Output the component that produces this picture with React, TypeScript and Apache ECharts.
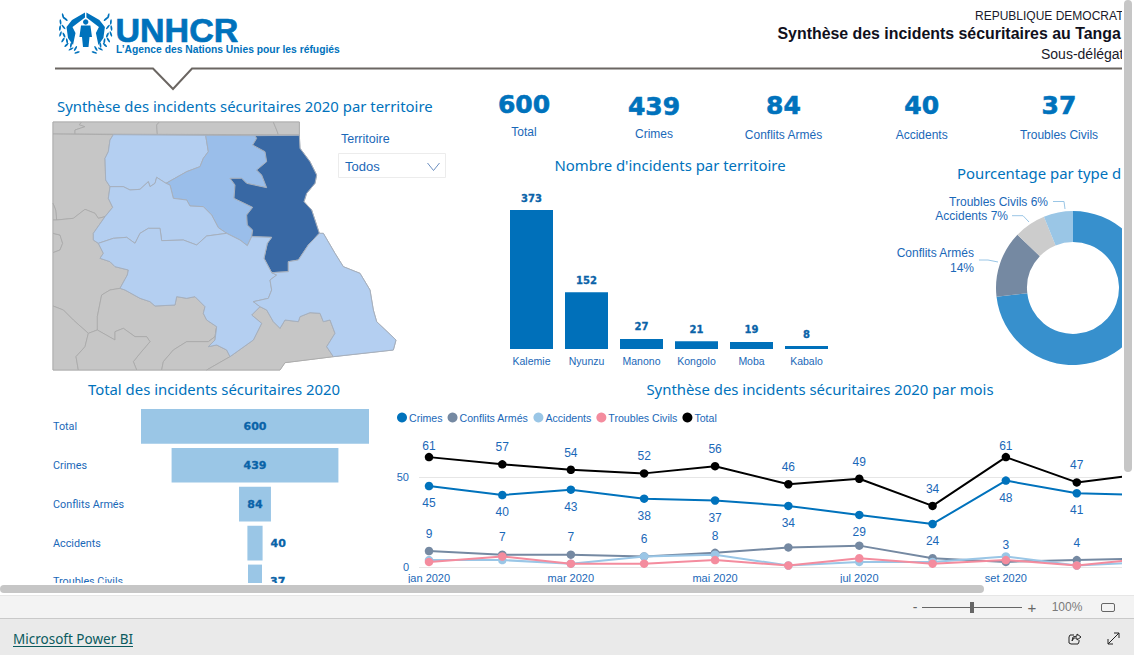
import React, { useEffect, useRef } from "react";
import * as echarts from "echarts";

const BLUE = "#0072BC";
const TXT = "#1A68B8";
const ARIAL = '"Liberation Sans", Arial, sans-serif';
const TITLE_FONT = '"Noto Sans", sans-serif';
const HEAVY = '"DejaVu Sans", sans-serif';

// ---- data ----
const territories = ["Kalemie", "Nyunzu", "Manono", "Kongolo", "Moba", "Kabalo"];
const territoryIncidents = [373, 152, 27, 21, 19, 8];

const kpiLabels = ["Total", "Crimes", "Conflits Armés", "Accidents", "Troubles Civils"];
const kpiValues = [600, 439, 84, 40, 37];

const pieNames = ["Crimes", "Conflits Armés", "Accidents", "Troubles Civils"];
const pieValues = [439, 84, 40, 37];

const months = ["2020-01-01", "2020-02-01", "2020-03-01", "2020-04-01", "2020-05-01", "2020-06-01", "2020-07-01", "2020-08-01", "2020-09-01", "2020-10-01", "2020-11-01", "2020-12-01"];
const monthLabels = ["jan 2020", "fev 2020", "mar 2020", "abr 2020", "mai 2020", "jun 2020", "jul 2020", "ago 2020", "set 2020", "out 2020", "nov 2020", "dez 2020"];
const crimes = [45, 40, 43, 38, 37, 34, 29, 24, 48, 41, 40, 20];
const conflits = [9, 7, 7, 6, 8, 11, 12, 5, 3, 4, 5, 7];
const accidents = [4, 4, 2, 6, 7, 1, 3, 3, 6, 1, 3, 0];
const troubles = [3, 6, 2, 2, 4, 1, 5, 2, 4, 1, 5, 2];
const totals = [61, 57, 54, 52, 56, 46, 49, 34, 61, 47, 52, 31];

// map outlines
type P = number[][];
const silhouette: P = [[39,6],[778,6],[778,46],[780,85],[810,125],[830,165],[825,190],[800,220],[792,245],[815,270],[838,340],[850,340],[885,400],[910,440],[960,460],[990,510],[1000,570],[1010,605],[1068,660],[1060,690],[880,710],[735,728],[720,750],[39,750]];
const neighbours: Record<string, P> = {
  n1: [[39,6],[125,6],[118,14],[135,20],[105,30],[105,42],[39,42]],
  n2: [[125,6],[358,6],[350,15],[352,43],[105,42],[105,30],[135,20],[118,14]],
  n3: [[358,6],[700,6],[710,30],[715,44],[352,43],[350,15]],
  n4: [[700,6],[778,6],[778,44],[715,44],[710,30]],
  n5: [[39,42],[220,44],[210,60],[205,95],[195,115],[197,180],[210,200],[205,235],[218,262],[195,290],[175,295],[165,280],[135,268],[100,295],[50,300],[47,270],[39,250]],
  n6: [[39,250],[47,270],[50,300],[39,300]],
  n7: [[39,340],[60,345],[68,370],[60,390],[39,398]],
  n8: [[39,300],[50,300],[100,295],[135,268],[165,280],[175,295],[195,290],[160,340],[160,360],[175,370],[190,400],[180,415],[210,425],[225,440],[265,450],[262,465],[240,505],[210,510],[185,525],[172,590],[172,630],[145,640],[100,600],[70,570],[39,558],[39,398],[60,390],[68,370],[60,345],[39,340]],
  n9: [[39,558],[70,570],[100,600],[145,640],[135,680],[108,710],[115,750],[39,750]],
  n10: [[240,505],[255,510],[300,535],[330,545],[345,558],[405,555],[410,530],[440,535],[465,530],[495,560],[490,580],[500,600],[530,620],[525,650],[505,665],[440,665],[400,690],[370,725],[365,750],[290,750],[280,725],[300,700],[330,665],[320,650],[285,650],[250,625],[225,635],[225,660],[172,630],[172,590],[185,525],[210,510]],
  n11: [[145,640],[172,630],[225,660],[225,635],[250,625],[285,650],[320,650],[330,665],[300,700],[280,725],[290,750],[115,750],[108,710],[135,680]],
  n12: [[365,750],[370,725],[400,690],[440,665],[505,665],[525,650],[530,620],[525,660],[505,680],[530,675],[560,690],[570,710],[500,750]],
  n13: [[720,750],[735,728],[880,710],[860,680],[885,640],[870,600],[850,605],[840,580],[810,578],[780,590],[775,605],[735,600],[720,625],[700,605],[680,570],[660,560],[635,585],[665,610],[640,660],[570,710],[500,750]],
};
const territoryShapes: Record<string, P> = {
  Kongolo: [[220,44],[497,46],[505,95],[490,115],[480,140],[440,155],[378,190],[350,172],[345,190],[330,200],[325,185],[300,208],[270,210],[250,200],[210,200],[197,180],[195,115],[205,95],[210,60]],
  Nyunzu: [[497,46],[645,47],[650,55],[638,75],[675,95],[680,125],[650,150],[665,165],[680,203],[620,190],[605,175],[570,175],[585,195],[582,235],[638,262],[620,285],[622,315],[638,330],[635,350],[622,377],[600,360],[560,340],[535,323],[515,285],[490,260],[450,258],[440,240],[400,235],[390,195],[378,190],[440,155],[480,140],[490,115],[505,95]],
  Kalemie: [[645,47],[778,46],[780,85],[810,125],[830,165],[825,190],[800,220],[792,245],[815,270],[838,340],[805,375],[775,420],[745,425],[745,455],[695,458],[672,415],[682,370],[695,352],[635,350],[638,330],[622,315],[620,285],[638,262],[582,235],[585,195],[570,175],[605,175],[620,190],[680,203],[665,165],[650,150],[680,125],[675,95],[638,75],[650,55]],
  Kabalo: [[210,200],[250,200],[270,210],[300,208],[325,185],[330,200],[345,190],[350,172],[378,190],[390,195],[400,235],[440,240],[450,258],[490,260],[515,285],[535,323],[560,340],[500,348],[470,375],[430,360],[365,362],[360,325],[325,325],[300,340],[285,370],[260,352],[220,355],[175,370],[160,360],[160,340],[195,290],[218,262],[205,235]],
  Manono: [[175,370],[220,355],[260,352],[285,370],[300,340],[325,325],[360,325],[365,362],[430,360],[470,375],[500,348],[560,340],[600,360],[622,377],[635,350],[695,352],[682,370],[672,415],[695,458],[710,465],[690,480],[695,510],[685,535],[640,545],[660,560],[635,585],[665,610],[640,660],[570,710],[560,690],[530,675],[505,680],[525,660],[530,620],[500,600],[490,580],[495,560],[465,530],[440,535],[410,530],[405,555],[345,558],[330,545],[300,535],[255,510],[240,505],[262,465],[265,450],[225,440],[210,425],[180,415],[190,400]],
  Moba: [[838,340],[850,340],[885,400],[910,440],[960,460],[990,510],[1000,570],[1010,605],[1068,660],[1060,690],[880,710],[860,680],[885,640],[870,600],[850,605],[840,580],[810,578],[780,590],[775,605],[735,600],[720,625],[700,605],[680,570],[660,560],[640,545],[685,535],[695,510],[690,480],[710,465],[695,458],[745,455],[745,425],[775,420],[805,375]],
};

const feature = (name: string, pts: P) => ({
  type: "Feature",
  properties: { name },
  geometry: { type: "Polygon", coordinates: [[...pts, pts[0]].map(([x, y]) => [x, -y])] },
});

const mapColor = (v: number) => (v >= 300 ? "#3868A4" : v >= 100 ? "#9ABEEA" : "#B4CFF1");

const EMBLEM = "M85 12.5L72 20L66.5 27L68 38L73 45L75.5 33L72.5 27L85 17.5ZM86.4 12.5L99.4 20L104.9 27L103.4 38L98.4 45L95.9 33L98.9 27L86.4 17.5ZM81 25.5L90.4 25.5L92 37L89.5 37L88.5 47L83 47L82 37L79.4 37Z";

function buildGraphics() {
  const els: any[] = [];
  const text = (t: string, x: number, y: number, font: string, fill: string, align = "left", z = 50, stroke?: number) =>
    els.push({ type: "text", z, style: { text: t, x, y, font, fill, align, verticalAlign: "middle", textAlign: align, textVerticalAlign: "middle",
      ...(stroke ? { stroke: fill, lineWidth: stroke } : {}) } });
  const poly = (points: number[][], stroke: string, lineWidth = 1, z = 50) =>
    els.push({ type: "polyline", z, shape: { points }, style: { stroke, lineWidth, fill: "none" } });
  const rect = (x: number, y: number, width: number, height: number, fill: string, r = 0, z = 100) =>
    els.push({ type: "rect", z, shape: { x, y, width, height, r }, style: { fill } });

  // titles
  const titleFont = `14.9px ${TITLE_FONT}`;
  text("Synthèse des incidents sécuritaires 2020 par territoire", 57, 106, titleFont, BLUE);
  text("Nombre d'incidents par territoire", 670, 164.5, titleFont, BLUE, "center");
  text("Pourcentage par type d", 957, 173, titleFont, BLUE);
  text("Total des incidents sécuritaires 2020", 214, 389, titleFont, BLUE, "center");
  text("Synthèse des incidents sécuritaires 2020 par mois", 820, 389, titleFont, BLUE, "center");

  // header
  text("REPUBLIQUE DEMOCRAT", 975, 15.5, `12px ${ARIAL}`, "#1a1a2a");
  text("Synthèse des incidents sécuritaires au Tanga", 777.5, 33.5, `bold 15.9px ${ARIAL}`, "#10101c");
  text("Sous-délégat", 1041, 53.5, `14px ${ARIAL}`, "#1a1a2a");
  poly([[55, 68.5], [153, 68.5], [173, 89], [192, 68.5], [1122, 68.5]], "#6B6662", 2);

  // logo
  text("UNHCR", 115.5, 29.5, `bold 34px ${ARIAL}`, BLUE, "left", 50, 0.7);
  text("L’Agence des Nations Unies pour les réfugiés", 116, 49.5, `bold 10.3px ${ARIAL}`, BLUE);
  els.push({ type: "unhcrEmblem", z: 50, x: 0, y: 0, style: { fill: BLUE } });
  els.push({ type: "circle", z: 50, shape: { cx: 85.7, cy: 22, r: 2.7 }, style: { fill: BLUE } });
  // laurel leaves: [x, y, angle]
  [[63, 16, 15], [60.5, 22, 5], [60, 28, -8], [60.5, 34, -20], [63, 40, -32], [66.5, 45, -45], [71, 49, -60], [77, 52.5, -75],
   [65.5, 19, 50], [63.5, 27, 40], [64, 35, 25], [67, 41, 10], [71, 45, -10], [75.5, 48.5, -30]].forEach(([x, y, a]) => {
    [x, 171.4 - x].forEach((cx, i) =>
      els.push({ type: "ellipse", z: 50, x: cx, y, rotation: ((i ? -a : a) * Math.PI) / 180 + Math.PI / 2,
        shape: { cx: 0, cy: 0, rx: 2.8, ry: 0.9 }, style: { fill: BLUE } }));
  });

  // KPI cards
  const kpiX = [524, 654, 783.5, 921.7, 1059];
  const kpiY = [104, 106, 105.5, 105, 105];
  const kpiLabelY = [131.7, 133.7, 134.7, 134.7, 135];
  kpiValues.forEach((v, i) => {
    text(String(v), kpiX[i], kpiY[i], `bold 25px ${HEAVY}`, BLUE, "center", 50, 0.6);
    text(kpiLabels[i], kpiX[i], kpiLabelY[i], `12px ${ARIAL}`, TXT, "center");
  });

  // slicer
  text("Territoire", 341, 138.5, `12.5px ${ARIAL}`, TXT);
  els.push({ type: "rect", z: 50, shape: { x: 338.5, y: 153.5, width: 107, height: 24 }, style: { fill: "#fff", stroke: "#ECECEC", lineWidth: 1 } });
  text("Todos", 345, 166, `13px ${ARIAL}`, TXT);
  poly([[427.5, 163], [433.5, 170.5], [439.5, 163]], "#6C8FC0", 1);

  // page chrome on top
  rect(0, 583, 1134, 12, "#ffffff");
  rect(1122, 0, 12, 595, "#ffffff");
  rect(1124, 0, 8, 472, "#C6C6C6", 4, 101);
  rect(0, 585, 984, 8, "#C6C6C6", 4, 101);
  rect(0, 595, 1134, 23, "#F3F3F3");
  rect(0, 595, 1134, 1, "#E6E6E6", 0, 101);
  rect(0, 618, 1134, 37, "#EAEAEA");
  rect(0, 618, 1134, 1, "#C9C9C9", 0, 101);
  rect(922, 607, 100, 1, "#666666", 0, 101);
  rect(970, 602, 4, 11, "#666666", 0, 102);
  text("-", 915, 607, `14px ${ARIAL}`, "#666666", "center", 102);
  text("+", 1032, 607, `15px ${ARIAL}`, "#666666", "center", 102);
  text("100%", 1067, 607, `12px ${ARIAL}`, "#7a7a7a", "center", 102);
  els.push({ type: "rect", z: 102, shape: { x: 1101.5, y: 603.5, width: 13, height: 8, r: 1.5 }, style: { fill: "none", stroke: "#666666", lineWidth: 1 } });
  text("Microsoft Power BI", 13, 639, `13.5px ${TITLE_FONT}`, "#0B5A5E", "left", 102);
  rect(13, 646, 120, 1, "#0B5A5E", 0, 102);
  poly([[1074, 635], [1070, 635], [1069, 637], [1069, 643], [1071, 644], [1078, 644], [1079, 642], [1079, 640]], "#222222", 1, 102);
  poly([[1072, 641], [1073, 637], [1077, 636], [1077, 634], [1081, 637], [1077, 640], [1077, 638], [1074, 638], [1072, 641]], "#222222", 1, 102);
  poly([[1108, 644], [1119, 633]], "#222222", 1, 102);
  poly([[1108, 639], [1108, 644], [1113, 644]], "#222222", 1, 102);
  poly([[1114, 633], [1119, 633], [1119, 638]], "#222222", 1, 102);
  return els;
}

const pieLabelLayout: Record<number, any> = {
  1: { x: 974, y: 260, points: [[979, 260], [988, 260], [998, 262]] },
  2: { x: 1008, y: 215.7, points: [[1012, 215.7], [1023, 215.7], [1029, 222]] },
  3: { x: 1048, y: 201.7, points: [[1053, 201.5], [1064, 201.5], [1065, 209]] },
};

export default function App() {
  const ref = useRef<HTMLDivElement>(null);
  useEffect(() => {
    document.body.style.margin = "0";
    echarts.graphic.registerShape("unhcrEmblem", echarts.graphic.extendPath(EMBLEM as any, {}));
    const geo = {
      type: "FeatureCollection",
      features: [
        feature("fond", silhouette),
        ...Object.entries(neighbours).map(([n, p]) => feature(n, p)),
        ...Object.entries(territoryShapes).map(([n, p]) => feature(n, p)),
      ],
    };
    echarts.registerMap("tanganyika", geo as any);

    const chart = echarts.init(ref.current!, null, { renderer: "svg" });
    // a continuous date scale, in days since the first month
    const days = months.map((m) => Math.round((Date.parse(m) - Date.parse(months[0])) / 86400000));
    const visibleMonth = (i: number) => i < 10; // later months lie beyond the visible page
    const lineSeries = (name: string, values: number[], color: string, z: number, labelFor: (v: number, i: number) => any) => ({
      type: "line", name, xAxisIndex: 2, yAxisIndex: 2, z,
      data: values.map((v, i) => ({ value: [days[i], v], label: visibleMonth(i) ? labelFor(v, i) : { show: false } })),
      symbol: "circle", symbolSize: 8.5, silent: true,
      lineStyle: { color, width: 2 }, itemStyle: { color },
      label: { color: TXT, fontFamily: ARIAL, fontSize: 12, formatter: (p: any) => String(p.value[1]) },
      emphasis: { disabled: true },
    });
    const none = () => ({ show: false });
    const option: any = {
      animation: false,
      backgroundColor: "#ffffff",
      tooltip: { show: false },
      legend: {
        data: ["Crimes", "Conflits Armés", "Accidents", "Troubles Civils", "Total"],
        left: 397, top: 412, padding: 0, icon: "circle", itemWidth: 10, itemHeight: 10, itemGap: 5,
        selectedMode: false,
        textStyle: { color: TXT, fontFamily: ARIAL, fontSize: 10.6, padding: [0, 0, 0, -3] },
      },
      grid: [
        { left: 504, top: 210, width: 330, height: 139, outerBoundsMode: "none" },
        { left: 141, top: 406.9, width: 228, height: 194.5, outerBoundsMode: "none" },
        { left: 429, top: 449.9, width: 792, height: 117.4, outerBoundsMode: "none" },
        { left: 419, top: 449.9, width: 703, height: 117.4, outerBoundsMode: "none" },
      ],
      xAxis: [
        { gridIndex: 0, type: "category", data: territories, axisLine: { show: false }, axisTick: { show: false },
          axisLabel: { color: TXT, fontFamily: ARIAL, fontSize: 10.5, margin: 6 } },
        { gridIndex: 1, type: "value", min: 0, max: 600, show: false },
        { gridIndex: 2, type: "value", min: 0, max: days[11], axisLine: { show: false }, axisTick: { show: false }, splitLine: { show: false },
          axisLabel: { color: TXT, fontFamily: ARIAL, fontSize: 11, margin: 5, hideOverlap: false, showMinLabel: true,
            customValues: days.filter((_t, i) => i % 2 === 0 && visibleMonth(i)),
            formatter: (val: number) => monthLabels[days.indexOf(val)] } },
        { gridIndex: 3, type: "value", min: 0, max: 1, show: false },
      ],
      yAxis: [
        { gridIndex: 0, type: "value", min: 0, max: 373, show: false },
        { gridIndex: 1, type: "category", inverse: true, data: kpiLabels, axisLine: { show: false }, axisTick: { show: false },
          axisLabel: { color: TXT, fontFamily: '"Roboto", sans-serif', fontSize: 10.8, margin: 88, align: "left" } },
        { gridIndex: 2, type: "value", min: 0, max: 65, show: false },
        { gridIndex: 3, type: "value", min: 0, max: 65, interval: 50, axisLine: { show: false }, axisTick: { show: false },
          axisLabel: { color: TXT, fontFamily: ARIAL, fontSize: 11, margin: 10, showMaxLabel: false },
          splitLine: { show: true, showMaxLine: false, lineStyle: { color: "#E6E6E6", width: 1 } } },
      ],
      series: [
        { type: "map", map: "tanganyika", name: "Carte", silent: true, aspectScale: 1, showLegendSymbol: false,
          boundingCoords: [[39, -6], [1068, -750]], left: 53, top: 122, width: 343, height: 248,
          roam: false, selectedMode: false, label: { show: false }, emphasis: { disabled: true },
          itemStyle: { areaColor: "#C6C6C6", borderColor: "#A8A8A8", borderWidth: 0.8 },
          data: territories.map((n, i) => ({ name: n, value: territoryIncidents[i],
            itemStyle: { areaColor: mapColor(territoryIncidents[i]), borderColor: "#A6B0BE", borderWidth: 1 } })) },
        { type: "bar", name: "Incidents", xAxisIndex: 0, yAxisIndex: 0, data: territoryIncidents, barWidth: 43, silent: true,
          itemStyle: { color: "#0070BA" },
          label: { show: true, position: "top", distance: 7, color: "#0A63A8", fontFamily: HEAVY, fontWeight: "bold", fontSize: 10, textBorderColor: "#0A63A8", textBorderWidth: 0.3 } },
        { type: "bar", name: "Espace", xAxisIndex: 1, yAxisIndex: 1, stack: "f", barWidth: 34.7, silent: true,
          data: kpiValues.map((v) => (600 - v) / 2), itemStyle: { color: "transparent" } },
        { type: "bar", name: "Valeur", xAxisIndex: 1, yAxisIndex: 1, stack: "f", barWidth: 34.7, silent: true,
          data: kpiValues.map((v) => ({ value: v, label: v >= 84 ? { position: "inside" } : { position: "right", distance: 8 } })),
          itemStyle: { color: "#9AC6E6" },
          label: { show: true, color: "#0A63A8", fontFamily: HEAVY, fontWeight: "bold", fontSize: 11, textBorderColor: "#0A63A8", textBorderWidth: 0.3 } },
        { type: "pie", name: "Pourcentage", center: [1073, 288], radius: [46, 77], startAngle: 90, silent: true,
          data: pieNames.map((n, i) => ({ name: n, value: pieValues[i],
            label: { show: i > 0 }, labelLine: { show: i > 0 } })),
          color: ["#3790CD", "#7589A2", "#CCCCCC", "#9AC6E6"],
          label: { position: "outside", color: TXT, fontFamily: ARIAL, fontSize: 12, lineHeight: 15,
            formatter: (p: any) => (p.dataIndex === 1 ? `${p.name}\n${Math.round(p.percent)}%` : `${p.name} ${Math.round(p.percent)}%`), align: "right" },
          labelLine: { show: true, lineStyle: { color: "#9AC6E6", width: 1 } },
          labelLayout: (p: any) => {
            const l = pieLabelLayout[p.dataIndex];
            return l ? { x: l.x, y: l.y, align: "right", verticalAlign: "middle", labelLinePoints: l.points } : {};
          },
          emphasis: { disabled: true } },
        { type: "line", name: "Grille", xAxisIndex: 3, yAxisIndex: 3, data: [], silent: true },
        lineSeries("Crimes", crimes, "#0072BC", 5, () => ({ show: true, position: "bottom", distance: 7 })),
        lineSeries("Conflits Armés", conflits, "#7589A2", 6, (_v, i) => (i >= 5 && i <= 7 ? none() : { show: true, position: "top", distance: 7 })),
        lineSeries("Accidents", accidents, "#9AC6E6", 7, none),
        lineSeries("Troubles Civils", troubles, "#F48C9E", 8, none),
        lineSeries("Total", totals, "#000000", 9, (v) => ({ show: true, position: "top", distance: v === 61 ? 1 : 7 })),
      ],
      graphic: { elements: buildGraphics() },
    };
    chart.setOption(option);
    return () => chart.dispose();
  }, []);
  return <div ref={ref} style={{ position: "fixed", left: 0, top: 0, width: 1134, height: 655 }} />;
}
